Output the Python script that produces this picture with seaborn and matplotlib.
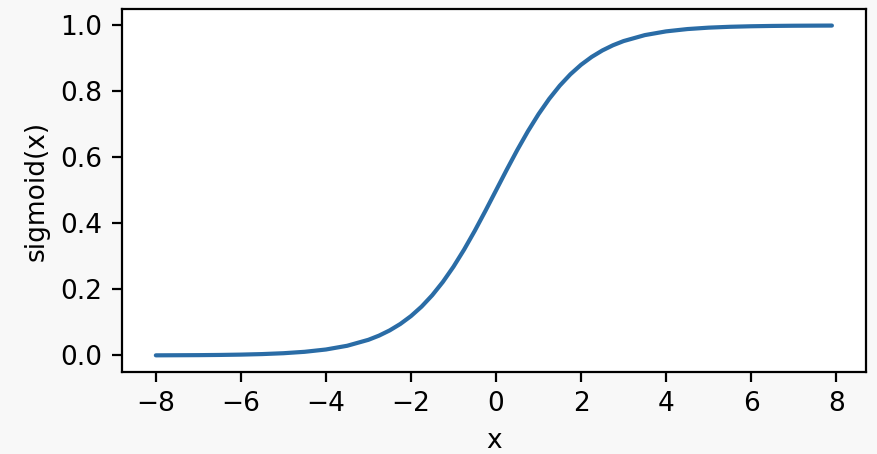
import numpy as np
import pandas as pd
import matplotlib
matplotlib.use("Agg")
import matplotlib.pyplot as plt
import seaborn as sns

# values
x_vals = [-8, -7.5, -7, -6.5, -6, -5.5, -5, -4.5, -4, -3.5, -3, -2.75, -2.5, -2.25,
          -2, -1.75, -1.5, -1.25, -1, -0.75, -0.5, -0.25, 0, 0.25, 0.5, 0.75, 1,
          1.25, 1.5, 1.75, 2, 2.25, 2.5, 2.75, 3, 3.5, 4, 4.5, 5, 5.5, 6, 6.5, 7,
          7.5, 7.9]
y_vals = [0.0003, 0.0006, 0.0009, 0.0015, 0.0025, 0.0041, 0.0067, 0.0110, 0.0180,
          0.0293, 0.0474, 0.0601, 0.0759, 0.0954, 0.1192, 0.1480, 0.1824, 0.2227,
          0.2689, 0.3208, 0.3775, 0.4378, 0.5, 0.5622, 0.6225, 0.6792, 0.7311,
          0.7773, 0.8176, 0.8520, 0.8808, 0.9046, 0.9241, 0.9399, 0.9526, 0.9707,
          0.9820, 0.9890, 0.9933, 0.9959, 0.9975, 0.9985, 0.9991, 0.9994, 0.9996]

df = pd.DataFrame({"x": x_vals, "y": y_vals})

sns.set_theme(style="ticks", rc={"axes.linewidth": 0.8, "xtick.major.width": 0.8,
                                 "ytick.major.width": 0.8, "xtick.major.size": 3.5,
                                 "ytick.major.size": 3.5})
plt.rcParams["font.family"] = ["DejaVu Sans"]

fig, ax = plt.subplots(figsize=(4.39, 2.27), dpi=200)
fig.patch.set_facecolor("#f8f8f8")
ax.set_facecolor("white")

sns.lineplot(data=df, x="x", y="y", ax=ax, color="#2a6ca6", linewidth=1.5)

for s in ax.spines.values():
    s.set_color("black")
ax.tick_params(colors="black", labelsize=9.5)
ax.set_xlabel("x", fontsize=9.5, color="black")
ax.set_ylabel("sigmoid(x)", fontsize=9.5, color="black")
ax.set_xticks([-8, -6, -4, -2, 0, 2, 4, 6, 8])
ax.set_yticks([0.0, 0.2, 0.4, 0.6, 0.8, 1.0])

fig.subplots_adjust(left=0.139, right=0.986, top=0.980, bottom=0.181)
fig.savefig("out.png", dpi=200, facecolor=fig.get_facecolor())
